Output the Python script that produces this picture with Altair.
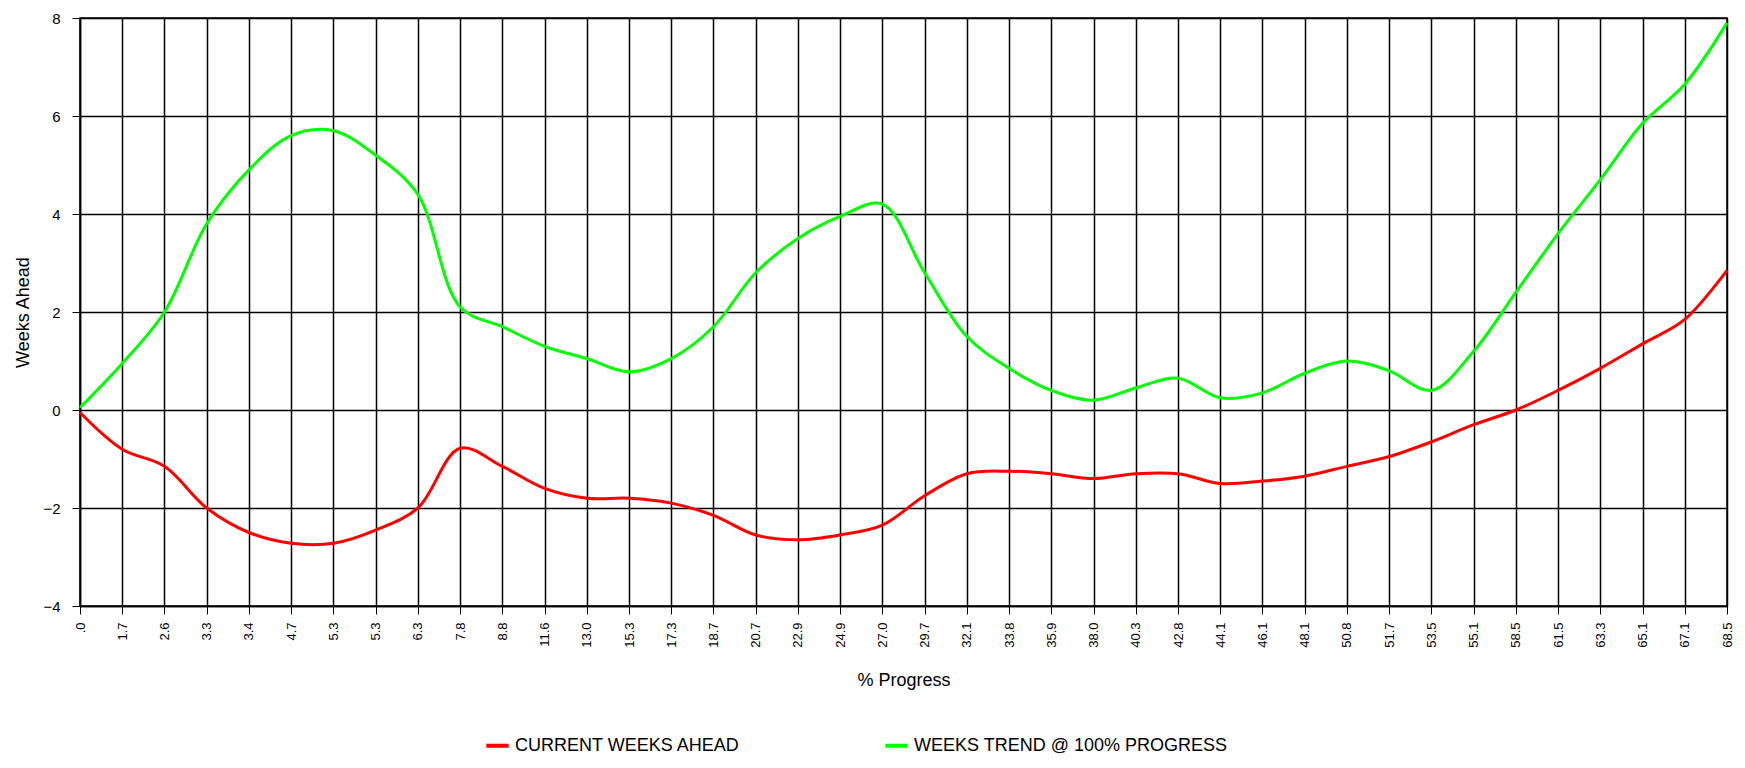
import altair as alt
import pandas as pd
import json

labels = [".0", "1.7", "2.6", "3.3", "3.4", "4.7", "5.3", "5.3", "6.3", "7.8",
          "8.8", "11.6", "13.0", "15.3", "17.3", "18.7", "20.7", "22.9", "24.9", "27.0",
          "29.7", "32.1", "33.8", "35.9", "38.0", "40.3", "42.8", "44.1", "46.1", "48.1",
          "50.8", "51.7", "53.5", "55.1", "58.5", "61.5", "63.3", "65.1", "67.1", "68.5"]

current = [-0.05, -0.8, -1.15, -2.0, -2.5, -2.72, -2.72, -2.45, -2.0, -0.78,
           -1.15, -1.6, -1.8, -1.8, -1.9, -2.15, -2.55, -2.65, -2.55, -2.35,
           -1.75, -1.3, -1.25, -1.3, -1.4, -1.3, -1.3, -1.5, -1.45, -1.35,
           -1.15, -0.95, -0.65, -0.3, 0.0, 0.4, 0.85, 1.35, 1.85, 2.85]

trend = [0.05, 0.95, 2.0, 3.8, 4.9, 5.6, 5.7, 5.2, 4.4, 2.1,
         1.7, 1.3, 1.05, 0.78, 1.05, 1.7, 2.8, 3.5, 3.95, 4.2,
         2.8, 1.5, 0.85, 0.4, 0.2, 0.45, 0.65, 0.25, 0.35, 0.75,
         1.0, 0.8, 0.4, 1.2, 2.4, 3.6, 4.7, 5.85, 6.65, 7.9]

series_names = ["CURRENT WEEKS AHEAD", "WEEKS TREND @ 100% PROGRESS"]
series_colors = ["#FF0000", "#00FF00"]

rows = []
for i in range(len(labels)):
    rows.append({"i": i, "series": series_names[0], "value": current[i]})
    rows.append({"i": i, "series": series_names[1], "value": trend[i]})
df = pd.DataFrame(rows)

label_expr = json.dumps(labels) + "[datum.value]"
FONT = "Liberation Sans"

chart = alt.Chart(df).mark_line(strokeWidth=3, interpolate="catmull-rom").encode(
    x=alt.X("i:Q",
            scale=alt.Scale(domain=[0, len(labels) - 1], nice=False, zero=False),
            axis=alt.Axis(values=list(range(len(labels))), labelExpr=label_expr,
                          labelAngle=270, labelAlign="right", labelBaseline="middle",
                          labelPadding=8, tickSize=8, tickColor="black",
                          domainColor="black", domainWidth=1.5,
                          gridColor="black", gridWidth=1.5, gridOpacity=1,
                          labelFont=FONT, labelFontSize=13, labelColor="black",
                          title="% Progress", titleFont=FONT, titleFontSize=18,
                          titleFontWeight="normal", titleColor="black", titlePadding=24,
                          labelFlush=False, labelOverlap=False)),
    y=alt.Y("value:Q",
            scale=alt.Scale(domain=[-4, 8], nice=False),
            axis=alt.Axis(values=[-4, -2, 0, 2, 4, 6, 8], tickSize=8, tickColor="black",
                          domainColor="black", domainWidth=1.5,
                          gridColor="black", gridWidth=1.5, gridOpacity=1,
                          labelFont=FONT, labelFontSize=15, labelColor="black",
                          labelPadding=12, labelFlush=False,
                          title="Weeks Ahead", titleFont=FONT, titleFontSize=18,
                          titleFontWeight="normal", titleColor="black", titlePadding=10)),
    color=alt.Color("series:N",
                    scale=alt.Scale(domain=series_names, range=series_colors),
                    legend=alt.Legend(title=None, orient="none", direction="horizontal",
                                      legendX=404, legendY=714,
                                      symbolType="stroke", symbolStrokeWidth=4,
                                      symbolSize=500, columnPadding=136,
                                      labelFont=FONT, labelFontSize=18, labelColor="black",
                                      labelLimit=450)),
).properties(
    width=1647, height=588,
    autosize=alt.AutoSizeParams(type="none"),
    padding={"left": 72, "top": 10, "right": 10, "bottom": 160},
).configure_view(stroke="black", strokeWidth=1.5)

chart.save("out.html", embed_options={"renderer": "svg", "actions": False})
